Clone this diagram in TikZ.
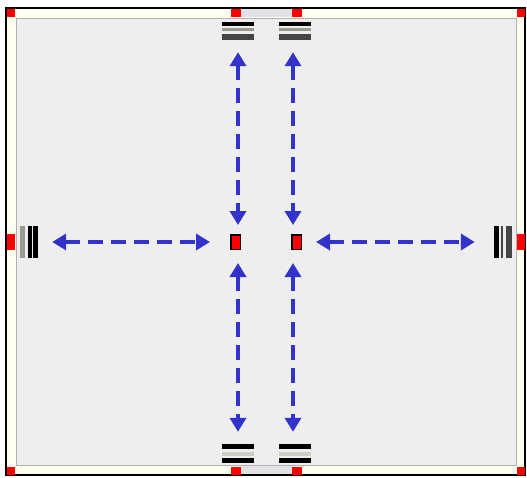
\documentclass[tikz,border=0pt]{standalone}
\usetikzlibrary{arrows.meta, positioning, calc}

\definecolor{faceGrey}{HTML}{EEEEEE}
\definecolor{rimCream}{HTML}{FFFFF0}
\definecolor{stripGrey}{HTML}{E2E2E6}
\definecolor{linkBlue}{RGB}{51,51,204}
\definecolor{barMid}{HTML}{9A9A90}
\definecolor{barDark}{HTML}{454545}

\tikzset{
  pin/.style={fill=red},
  slot/.style={draw=black, fill=red, line width=1.5pt, minimum width=9.5pt, minimum height=14.5pt, inner sep=0pt},
  portN/.style={fill=faceGrey, minimum width=32pt, minimum height=18pt, inner sep=0pt, path picture={
      \fill[black] (path picture bounding box.north west) rectangle ([yshift=-4pt]path picture bounding box.north east);
      \fill[barMid] ([yshift=-6pt]path picture bounding box.north west) rectangle ([yshift=-9pt]path picture bounding box.north east);
      \fill[barDark] ([yshift=-12pt]path picture bounding box.north west) rectangle (path picture bounding box.south east);}},
  portS/.style={fill=faceGrey, minimum width=32pt, minimum height=19pt, inner sep=0pt, path picture={
      \fill[black] (path picture bounding box.north west) rectangle ([yshift=-5pt]path picture bounding box.north east);
      \fill[barMid!50] ([yshift=-8pt]path picture bounding box.north west) rectangle ([yshift=-12pt]path picture bounding box.north east);
      \fill[black] ([yshift=-14pt]path picture bounding box.north west) rectangle (path picture bounding box.south east);}},
  portW/.style={fill=faceGrey, minimum width=18pt, minimum height=32pt, inner sep=0pt, path picture={
      \fill[barMid] (path picture bounding box.south west) rectangle ([xshift=5pt]path picture bounding box.north west);
      \fill[black] ([xshift=8pt]path picture bounding box.south west) rectangle ([xshift=12pt]path picture bounding box.north west);
      \fill[black] ([xshift=13pt]path picture bounding box.south west) rectangle (path picture bounding box.north east);}},
  portE/.style={fill=faceGrey, minimum width=18pt, minimum height=32pt, inner sep=0pt, path picture={
      \fill[black] (path picture bounding box.south west) rectangle ([xshift=5pt]path picture bounding box.north west);
      \fill[barDark] ([xshift=7pt]path picture bounding box.south west) rectangle ([xshift=9pt]path picture bounding box.north west);
      \fill[barDark] ([xshift=12pt]path picture bounding box.south west) rectangle (path picture bounding box.north east);}},
  link/.style={linkBlue, line width=4pt, dash pattern=on 15pt off 8pt,
    {Triangle[length=14pt,width=16pt]}-{Triangle[length=14pt,width=16pt]}}
}

\begin{document}
\begin{tikzpicture}[x=1pt, y=-1pt]
\useasboundingbox (0,0) rectangle (527,477);
\fill[white] (0,0) rectangle (527,477);
% Frame
\fill[rimCream] (6,8) rectangle (525,475);
\fill[stripGrey] (241,9) rectangle (292,17);
\fill[stripGrey] (241,466) rectangle (292,474);
\fill[faceGrey] (16,18) rectangle (516,465);
\draw[black!30, line width=1pt] (16,18) rectangle (516,465);
\draw[black, line width=2pt] (6,8) rectangle (525,475);
% Pins on the rim
\foreach \px/\py/\pw/\ph in {7/9/8/8, 231/9/10/8, 292/9/10/8, 517/9/8/8,
    7/234/8/16, 517/234/8/16,
    7/467/8/8, 231/467/10/8, 292/467/10/8, 517/467/8/8}
  \fill[pin] (\px,\py) rectangle ++(\pw,\ph);
% Ports
\node[portN] (portN1) at (238,31) {};
\node[portN] (portN2) at (295,31) {};
\node[portS] (portS1) at (238,453.5) {};
\node[portS] (portS2) at (295,453.5) {};
\node[portW] (portW) at (29,242) {};
\node[portE] (portE) at (503,242) {};
% Slots
\node[slot] (slotL) at (235.5,242) {};
\node[slot] (slotR) at (296.5,242) {};
% Links
\draw[link, shorten <=12pt, shorten >=9pt] (portN1.south) -- (portN1.south |- slotL.north);
\draw[link, shorten <=12pt, shorten >=9pt] ([xshift=-2pt]portN2.south) -- ([xshift=-2pt]portN2.south |- slotR.north);
\draw[link, shorten <=13pt, shorten >=12pt] (portS1.north |- slotL.south) -- (portS1.north);
\draw[link, shorten <=13pt, shorten >=12pt] ([xshift=-2pt]portS2.north |- slotR.south) -- ([xshift=-2pt]portS2.north);
\draw[link, shorten <=14pt, shorten >=20pt] (portW.east) -- (slotL.west);
\draw[link, shorten <=14pt, shorten >=19pt] (slotR.east) -- (portE.west);
\end{tikzpicture}
\end{document}
